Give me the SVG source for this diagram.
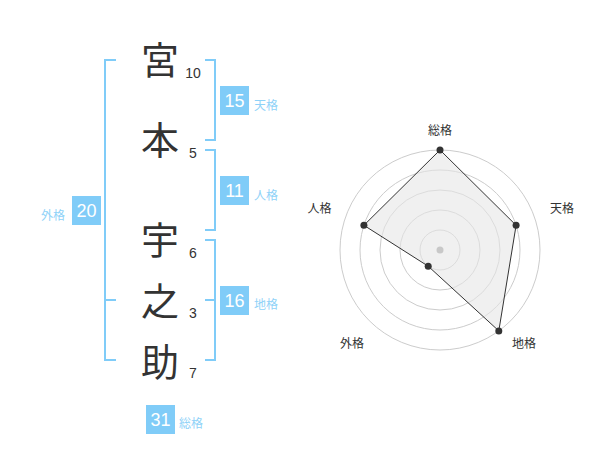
<svg xmlns="http://www.w3.org/2000/svg" width="600" height="470" viewBox="0 0 600 470">
<style>
.kanji{font-family:"Noto Sans CJK JP","Noto Sans CJK SC",sans-serif;font-size:38px;fill:#333;text-anchor:middle}
.num{font-family:"Liberation Sans",Arial,sans-serif;font-size:14px;fill:#333;text-anchor:middle}
.box{fill:#80ccf8}
.boxt{font-family:"Liberation Sans",Arial,sans-serif;font-size:18px;fill:#fff;text-anchor:middle}
.lab{font-family:"Noto Sans CJK JP","Noto Sans CJK SC",sans-serif;font-size:12px;fill:#8fd2f8}
.br{fill:none;stroke:#80ccf8;stroke-width:2}
.ring{fill:none;stroke:#cccccc;stroke-width:1}
.rlab{font-family:"Noto Sans CJK JP","Noto Sans CJK SC",sans-serif;font-size:12px;fill:#333;text-anchor:middle}
.dot{fill:#333}
</style>
<rect width="600" height="470" fill="#fff"/>
<g id="connectors">
<polyline class="br" points="116,60 105,60 105,360 116,360"/>
<line class="br" x1="105" y1="300" x2="116" y2="300"/>
<polyline class="br" points="205,60 215,60 215,140 205,140"/>
<polyline class="br" points="205,150 215,150 215,230 205,230"/>
<polyline class="br" points="205,240 215,240 215,360 205,360"/>
<line class="br" x1="205" y1="300" x2="215" y2="300"/>
</g>
<g id="char1"><text class="kanji" x="160" y="74">宮</text><text class="num" x="193" y="78">10</text></g>
<g id="char2"><text class="kanji" x="160" y="154">本</text><text class="num" x="193" y="158">5</text></g>
<g id="char3"><text class="kanji" x="160" y="254">宇</text><text class="num" x="193" y="258">6</text></g>
<g id="char4"><text class="kanji" x="160" y="315">之</text><text class="num" x="193" y="318">3</text></g>
<g id="char5"><text class="kanji" x="160" y="376">助</text><text class="num" x="193" y="378">7</text></g>
<g id="tenkaku"><rect class="box" x="220" y="86" width="29" height="29"/><text class="boxt" x="234.5" y="107">15</text><text class="lab" x="254" y="109.5">天格</text></g>
<g id="jinkaku"><rect class="box" x="220" y="176" width="29" height="29"/><text class="boxt" x="234.5" y="197">11</text><text class="lab" x="254" y="199.5">人格</text></g>
<g id="chikaku"><rect class="box" x="220" y="286" width="29" height="29"/><text class="boxt" x="234.5" y="307">16</text><text class="lab" x="254" y="308.5">地格</text></g>
<g id="gaikaku"><rect class="box" x="72" y="196" width="29" height="29"/><text class="boxt" x="86.5" y="217">20</text><text class="lab" x="41" y="219.5">外格</text></g>
<g id="soukaku"><rect class="box" x="146" y="405" width="29" height="29"/><text class="boxt" x="160.5" y="426">31</text><text class="lab" x="179" y="427.5">総格</text></g>
<g id="radar">
<circle class="ring" cx="440" cy="250" r="20"/>
<circle class="ring" cx="440" cy="250" r="40"/>
<circle class="ring" cx="440" cy="250" r="60"/>
<circle class="ring" cx="440" cy="250" r="80"/>
<circle class="ring" cx="440" cy="250" r="100"/>
<polygon points="440,150 516.1,225.3 498.8,330.9 428.2,266.2 363.9,225.3" fill="#e6e6e6" fill-opacity="0.6" stroke="#333" stroke-width="1"/>
<circle cx="440" cy="250" r="3.5" fill="#c8c8c8"/>
<circle class="dot" cx="440" cy="150" r="3.5"/>
<circle class="dot" cx="516.1" cy="225.3" r="3.5"/>
<circle class="dot" cx="498.8" cy="330.9" r="3.5"/>
<circle class="dot" cx="428.2" cy="266.2" r="3.5"/>
<circle class="dot" cx="363.9" cy="225.3" r="3.5"/>
<text class="rlab" x="440" y="135">総格</text>
<text class="rlab" x="562" y="213">天格</text>
<text class="rlab" x="319.5" y="213">人格</text>
<text class="rlab" x="352" y="347.5">外格</text>
<text class="rlab" x="524" y="347.5">地格</text>
</g>
</svg>
